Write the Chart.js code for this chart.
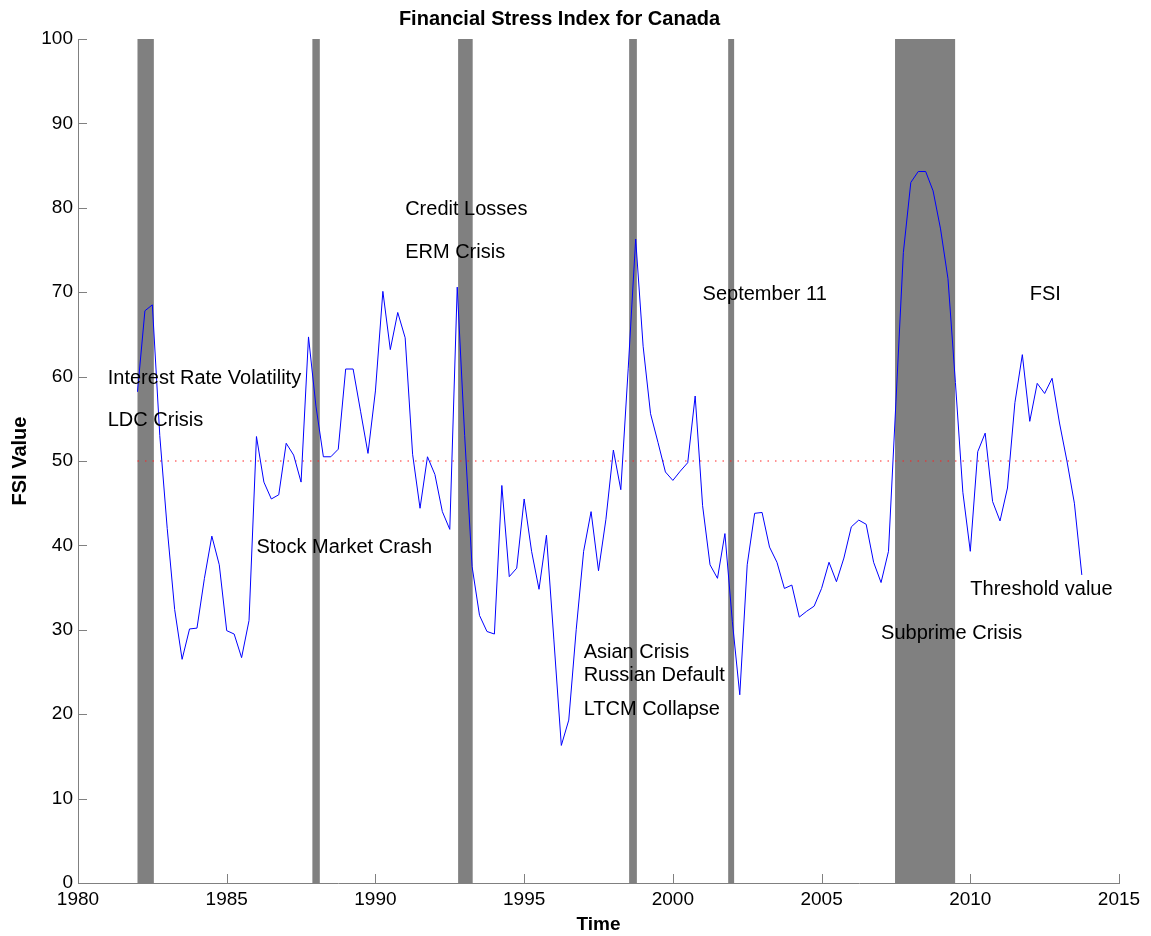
<!DOCTYPE html>
<html>
<head>
<meta charset="utf-8">
<title>Financial Stress Index for Canada</title>
<script src="https://cdn.jsdelivr.net/npm/chart.js@4.4.1/dist/chart.umd.min.js"></script>
<style>
  html, body { margin: 0; padding: 0; background: #fff; }
  canvas { display: block; }
</style>
</head>
<body>
<canvas id="fsi" width="1151" height="936"></canvas>
<script>
(function () {
  "use strict";

  /* ---- data ------------------------------------------------------- */
  var firstQuarter = 1982.0;           /* quarterly series, first obs */
  var fsiValues = [
    58.2, 67.8, 68.5, 53.0, 42.0, 32.4, 26.5, 30.1,
    30.2, 36.1, 41.1, 37.7, 29.9, 29.5, 26.7, 31.1,
    52.9, 47.5, 45.5, 46.0, 52.1, 50.7, 47.5, 64.7,
    56.5, 50.5, 50.5, 51.4, 60.9, 60.9, 55.9, 50.9,
    58.3, 70.1, 63.2, 67.6, 64.6, 50.8, 44.4, 50.5,
    48.4, 44.0, 41.9, 70.6, 53.0, 37.5, 31.7, 29.8,
    29.5, 47.1, 36.3, 37.3, 45.5, 39.3, 34.8, 41.2,
    28.8, 16.3, 19.3, 30.0, 39.3, 44.0, 37.0, 43.1,
    51.3, 46.6, 61.0, 76.3, 63.6, 55.6, 52.2, 48.7,
    47.7, 48.8, 49.8, 57.7, 44.7, 37.7, 36.1, 41.4,
    31.0, 22.3, 37.7, 43.8, 43.9, 39.8, 38.0, 34.9,
    35.3, 31.5, 32.2, 32.8, 34.9, 38.0, 35.7, 38.5,
    42.2, 43.0, 42.5, 38.0, 35.6, 39.3, 57.0, 74.7,
    83.0, 84.3, 84.3, 82.0, 77.5, 71.6, 59.3, 46.3,
    39.3, 51.1, 53.3, 45.2, 42.9, 46.8, 56.9, 62.6,
    54.7, 59.2, 58.0, 59.8, 54.5, 50.0, 45.0, 36.5
  ];
  var thresholdValue = 50;

  var crisisStart = [1982.0, 1987.88, 1992.78, 1998.53, 2001.86, 2007.47];
  var crisisEnd   = [1982.55, 1988.13, 1993.27, 1998.79, 2002.06, 2009.49];

  var noteText = [
    "Interest Rate Volatility", "LDC Crisis", "Stock Market Crash",
    "Credit Losses", "ERM Crisis", "Asian Crisis", "Russian Default",
    "LTCM Collapse", "September 11", "Subprime Crisis", "FSI",
    "Threshold value"
  ];
  var noteX = [1981, 1981, 1986, 1991, 1991, 1997, 1997, 1997, 2001, 2007, 2012, 2010];
  var noteY = [60, 55, 40, 80, 75, 27.6, 24.8, 20.8, 70, 29.8, 70, 35];

  var xTickMin = 1980, xTickMax = 2015, xTickStep = 5;
  var yTickMin = 0, yTickMax = 100, yTickStep = 10;

  /* ---- look ------------------------------------------------------- */
  var FONT = "'Liberation Sans', Arial, Helvetica, sans-serif";
  var AXIS = "#808080";
  var BAND = "#808080";
  var TICK = 9;

  Chart.defaults.font.family = FONT;
  Chart.defaults.color = "#000";

  var fsiPoints = fsiValues.map(function (v, i) {
    return { x: firstQuarter + i / 4, y: v };
  });
  var lastQuarter = firstQuarter + (fsiValues.length - 1) / 4;
  var thresholdPoints = [
    { x: firstQuarter, y: thresholdValue },
    { x: lastQuarter, y: thresholdValue }
  ];

  /* ---- plugins ---------------------------------------------------- */
  var crisisBands = {
    id: "crisisBands",
    beforeDatasetsDraw: function (chart) {
      var xs = chart.scales.x, ys = chart.scales.y, ctx = chart.ctx;
      var top = ys.getPixelForValue(yTickMax);
      var bottom = ys.getPixelForValue(yTickMin);
      ctx.save();
      ctx.fillStyle = BAND;
      for (var i = 0; i < crisisStart.length; i++) {
        var x0 = xs.getPixelForValue(crisisStart[i]);
        var x1 = xs.getPixelForValue(crisisEnd[i]);
        ctx.fillRect(x0, top, x1 - x0, bottom - top);
      }
      ctx.restore();
    }
  };

  var notes = {
    id: "notes",
    afterDatasetsDraw: function (chart) {
      var xs = chart.scales.x, ys = chart.scales.y, ctx = chart.ctx;
      ctx.save();
      ctx.font = "20px " + FONT;
      ctx.fillStyle = "#000";
      ctx.textAlign = "left";
      ctx.textBaseline = "middle";
      for (var i = 0; i < noteText.length; i++) {
        /* +2: matlab centres on the glyph box, canvas a bit higher */
        ctx.fillText(noteText[i], xs.getPixelForValue(noteX[i]), ys.getPixelForValue(noteY[i]) + 2);
      }
      ctx.restore();
    }
  };

  /* matlab style: tick marks point into the plot */
  var inwardTicks = {
    id: "inwardTicks",
    afterDraw: function (chart) {
      var xs = chart.scales.x, ys = chart.scales.y, ctx = chart.ctx;
      var a = chart.chartArea;
      ctx.save();
      ctx.strokeStyle = AXIS;
      ctx.lineWidth = 1;
      ctx.beginPath();
      xs.ticks.forEach(function (t) {
        var px = Math.round(xs.getPixelForValue(t.value)) + 0.5;
        ctx.moveTo(px, a.bottom);
        ctx.lineTo(px, a.bottom - TICK);
      });
      ys.ticks.forEach(function (t) {
        var py = Math.round(ys.getPixelForValue(t.value)) + 0.5;
        ctx.moveTo(a.left, py);
        ctx.lineTo(a.left + TICK, py);
      });
      ctx.stroke();
      ctx.restore();
    }
  };

  /* ---- chart ------------------------------------------------------ */
  new Chart(document.getElementById("fsi"), {
    type: "scatter",
    data: {
      datasets: [{
        label: "FSI",
        data: fsiPoints,
        showLine: true,
        borderColor: "#0000ff",
        borderWidth: 1,
        pointRadius: 0,
        tension: 0
      }, {
        label: "Threshold value",
        data: thresholdPoints,
        showLine: true,
        borderColor: "rgba(255, 30, 30, 0.65)",
        borderWidth: 1.5,
        borderDash: [1.5, 6],
        pointRadius: 0
      }]
    },
    options: {
      responsive: false,
      animation: false,
      layout: { padding: { left: 0, right: 32, top: 0, bottom: 0 } },
      plugins: {
        legend: { display: false },
        tooltip: { enabled: false },
        title: {
          display: true,
          text: "Financial Stress Index for Canada",
          font: { size: 20, weight: "bold" },
          color: "#000",
          padding: { top: 7, bottom: 8 }
        }
      },
      scales: {
        x: {
          type: "linear",
          min: xTickMin,
          max: xTickMax,
          afterFit: function (s) { s.height = 53; },
          grid: { display: true, drawOnChartArea: false, drawTicks: false },
          border: { display: true, color: AXIS, width: 1 },
          ticks: {
            stepSize: xTickStep,
            padding: 5,
            font: { size: 19 },
            color: "#000",
            maxRotation: 0,
            callback: function (v) { return String(v); }
          },
          title: {
            display: true,
            text: "Time",
            font: { size: 19, weight: "bold" },
            color: "#000",
            padding: { top: 0, bottom: 0 }
          }
        },
        y: {
          min: yTickMin,
          max: yTickMax,
          afterFit: function (s) { s.width = 78; },
          grid: { display: true, drawOnChartArea: false, drawTicks: false },
          border: { display: true, color: AXIS, width: 1 },
          ticks: {
            stepSize: yTickStep,
            padding: 5,
            font: { size: 19 },
            color: "#000",
            callback: function (v) { return String(v); }
          },
          title: {
            display: true,
            text: "FSI Value",
            font: { size: 20, weight: "bold" },
            color: "#000",
            padding: { top: 8, bottom: 0 }
          }
        }
      }
    },
    plugins: [crisisBands, notes, inwardTicks]
  });
})();
</script>
</body>
</html>
